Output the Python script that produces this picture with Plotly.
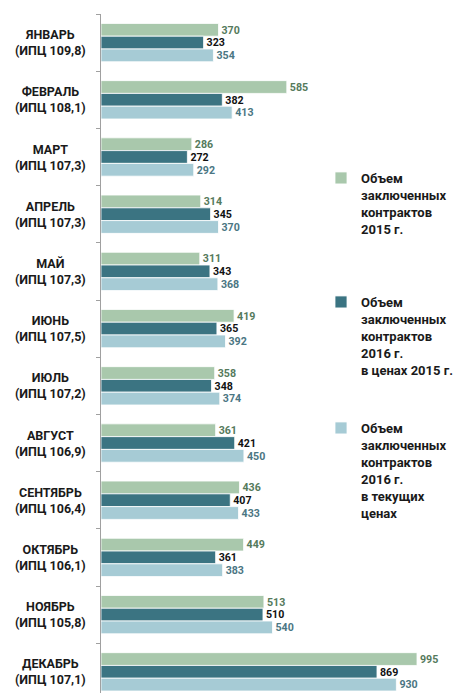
import plotly.graph_objects as go

months = ["ЯНВАРЬ", "ФЕВРАЛЬ", "МАРТ", "АПРЕЛЬ", "МАЙ", "ИЮНЬ", "ИЮЛЬ",
          "АВГУСТ", "СЕНТЯБРЬ", "ОКТЯБРЬ", "НОЯБРЬ", "ДЕКАБРЬ"]
cpi = ["109,8", "108,1", "107,3", "107,3", "107,3", "107,5", "107,2",
       "106,9", "106,4", "106,1", "105,8", "107,1"]
v2015 = [370, 585, 286, 314, 311, 419, 358, 361, 436, 449, 513, 995]
v2016_2015prices = [323, 382, 272, 345, 343, 365, 348, 421, 407, 361, 510, 869]
v2016_current = [354, 413, 292, 370, 368, 392, 374, 450, 433, 383, 540, 930]

names = [
    "Объем<br>заключенных<br>контрактов<br>2015 г.",
    "Объем<br>заключенных<br>контрактов<br>2016 г.<br>в ценах 2015 г.",
    "Объем<br>заключенных<br>контрактов<br>2016 г.<br>в текущих<br>ценах",
]
series = [v2015, v2016_2015prices, v2016_current]
bar_colors = ["#A9C8AC", "#3B7482", "#A6CBD5"]
text_colors = ["#557A5C", "#111111", "#4B7683"]
legend_ids = ["legend", "legend2", "legend3"]

FONT = "Roboto"
cats = months

fig = go.Figure()
for vals, name, bc, tc, lg in zip(series, names, bar_colors, text_colors, legend_ids):
    fig.add_trace(go.Bar(
        y=cats, x=vals, orientation="h", name=name,
        marker=dict(color=bc, line=dict(color="white", width=0.8)),
        text=[str(v) for v in vals], textposition="outside",
        textfont=dict(family=FONT, size=12.5, color=tc, weight="bold"),
        cliponaxis=False, legend=lg,
    ))

W, H = 453, 693
L, T = 101, 14
plot_w = W - L

def px_x(px):
    return (px - L) / plot_w

def px_y(py):
    return 1 - (py - T) / (H - T)

for m, c in zip(months, cpi):
    fig.add_annotation(
        x=px_x(50), xref="paper", y=m, yref="y",
        text=f"<b>{m}<br>(ИПЦ {c})</b>", showarrow=False, align="center",
        xanchor="center", yanchor="middle",
        font=dict(family=FONT, size=12.5, color="#1a1a1a"),
    )

leg_common = dict(font=dict(family=FONT, size=13, color="#1a1a1a", weight="bold"),
                  bgcolor="rgba(0,0,0,0)", xanchor="left", yanchor="top",
                  valign="top", tracegroupgap=0, itemwidth=30)
fig.update_layout(
    width=W, height=H,
    margin=dict(l=L, r=0, t=T, b=0, autoexpand=False),
    plot_bgcolor="white", paper_bgcolor="white",
    barmode="group", bargap=0.33, bargroupgap=0,
    showlegend=True,
    legend=dict(x=px_x(321), y=px_y(163), **leg_common),
    legend2=dict(x=px_x(321), y=px_y(287), **leg_common),
    legend3=dict(x=px_x(321), y=px_y(413), **leg_common),
    xaxis=dict(range=[0, plot_w / 0.3176], visible=False, showgrid=False),
    yaxis=dict(type="category", categoryorder="array", categoryarray=cats,
               range=[11.37, -0.5], showticklabels=False, showgrid=False,
               ticks="outside", tickson="boundaries", ticklen=4,
               tickcolor="#A0A0A0", showline=True, linecolor="#A0A0A0",
               linewidth=1, zeroline=False),
)

fig.write_html("out.html", config={"displayModeBar": False},
               post_script="document.body.style.margin='0';document.body.style.overflow='hidden';")
